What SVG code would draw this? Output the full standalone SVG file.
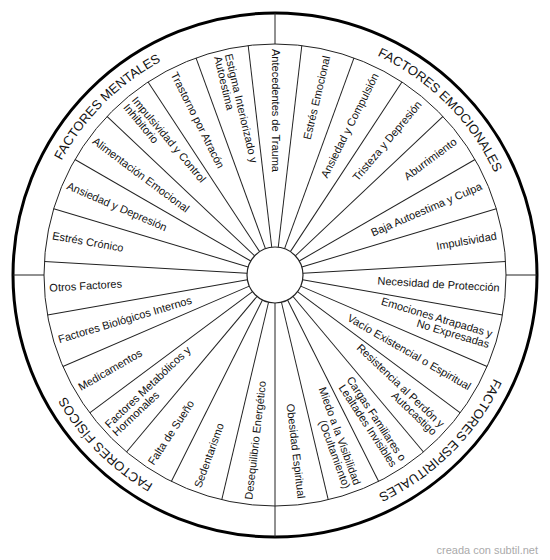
<svg xmlns="http://www.w3.org/2000/svg" xmlns:xlink="http://www.w3.org/1999/xlink" width="550" height="560" viewBox="0 0 550 560">
<style>
.t{font-family:"Liberation Sans",Arial,sans-serif;font-size:11px;fill:#111}
.r{text-anchor:end}
.cat{font-family:"Liberation Sans",Arial,sans-serif;font-size:13px;fill:#111;text-anchor:middle}
.sp{stroke:#222;stroke-width:1;fill:none}
.wm{font-family:"Liberation Sans",Arial,sans-serif;font-size:11px;fill:#aaa;text-anchor:end}
</style>
<defs>
<path id="ring" d="M275,33 A242,242 0 1,1 275,517 A242,242 0 1,1 275,33"/>
</defs>
<rect width="550" height="560" fill="#fff"/>
<g id="frame">
<circle cx="275" cy="275" r="262" fill="#fff" stroke="#000" stroke-width="3"/>
<circle cx="275" cy="275" r="231" fill="none" stroke="#222" stroke-width="1"/>
<g class="sp">
<line x1="275" y1="13" x2="275" y2="44"/>
<line x1="537" y1="275" x2="506" y2="275"/>
<line x1="275" y1="537" x2="275" y2="506"/>
<line x1="13" y1="275" x2="44" y2="275"/>
</g>
</g>
<g id="connectors" class="sp" transform="translate(275 275)">
<line x1="0" y1="-28" x2="0" y2="-231" transform="rotate(6.667)"/>
<line x1="0" y1="-28" x2="0" y2="-231" transform="rotate(20)"/>
<line x1="0" y1="-28" x2="0" y2="-231" transform="rotate(33.333)"/>
<line x1="0" y1="-28" x2="0" y2="-231" transform="rotate(46.667)"/>
<line x1="0" y1="-28" x2="0" y2="-231" transform="rotate(60)"/>
<line x1="0" y1="-28" x2="0" y2="-231" transform="rotate(73.333)"/>
<line x1="0" y1="-28" x2="0" y2="-231" transform="rotate(86.667)"/>
<line x1="0" y1="-28" x2="0" y2="-231" transform="rotate(100)"/>
<line x1="0" y1="-28" x2="0" y2="-231" transform="rotate(113.333)"/>
<line x1="0" y1="-28" x2="0" y2="-231" transform="rotate(126.667)"/>
<line x1="0" y1="-28" x2="0" y2="-231" transform="rotate(140)"/>
<line x1="0" y1="-28" x2="0" y2="-231" transform="rotate(153.333)"/>
<line x1="0" y1="-28" x2="0" y2="-231" transform="rotate(166.667)"/>
<line x1="0" y1="-28" x2="0" y2="-231" transform="rotate(180)"/>
<line x1="0" y1="-28" x2="0" y2="-231" transform="rotate(193.333)"/>
<line x1="0" y1="-28" x2="0" y2="-231" transform="rotate(206.667)"/>
<line x1="0" y1="-28" x2="0" y2="-231" transform="rotate(220)"/>
<line x1="0" y1="-28" x2="0" y2="-231" transform="rotate(233.333)"/>
<line x1="0" y1="-28" x2="0" y2="-231" transform="rotate(246.667)"/>
<line x1="0" y1="-28" x2="0" y2="-231" transform="rotate(260)"/>
<line x1="0" y1="-28" x2="0" y2="-231" transform="rotate(273.333)"/>
<line x1="0" y1="-28" x2="0" y2="-231" transform="rotate(286.667)"/>
<line x1="0" y1="-28" x2="0" y2="-231" transform="rotate(300)"/>
<line x1="0" y1="-28" x2="0" y2="-231" transform="rotate(313.333)"/>
<line x1="0" y1="-28" x2="0" y2="-231" transform="rotate(326.667)"/>
<line x1="0" y1="-28" x2="0" y2="-231" transform="rotate(340)"/>
<line x1="0" y1="-28" x2="0" y2="-231" transform="rotate(353.333)"/>
</g>
<g id="hub"><circle cx="275" cy="275" r="28" fill="#fff" stroke="#222" stroke-width="1.2"/></g>
<g id="categories">
<text class="cat"><textPath xlink:href="#ring" href="#ring" startOffset="190.07">FACTORES EMOCIONALES</textPath></text>
<text class="cat"><textPath xlink:href="#ring" href="#ring" startOffset="570.2">FACTORES ESPIRITUALES</textPath></text>
<text class="cat"><textPath xlink:href="#ring" href="#ring" startOffset="950.3">FACTORES FÍSICOS</textPath></text>
<text class="cat"><textPath xlink:href="#ring" href="#ring" startOffset="1330.5">FACTORES MENTALES</textPath></text>
</g>
<g id="n0" transform="translate(275 275) rotate(90)"><text class="t" x="-226" y="3.5">Antecedentes de Trauma</text></g>
<g id="n1" transform="translate(275 275) rotate(-76.667)"><text class="t r" x="225" y="3.5">Estrés Emocional</text></g>
<g id="n2" transform="translate(275 275) rotate(-63.333)"><text class="t r" x="225" y="3.5">Ansiedad y Compulsión</text></g>
<g id="n3" transform="translate(275 275) rotate(-50)"><text class="t r" x="225" y="3.5">Tristeza y Depresión</text></g>
<g id="n4" transform="translate(275 275) rotate(-36.667)"><text class="t r" x="225" y="3.5">Aburrimiento</text></g>
<g id="n5" transform="translate(275 275) rotate(-23.333)"><text class="t r" x="225" y="3.5">Baja Autoestima y Culpa</text></g>
<g id="n6" transform="translate(275 275) rotate(-10)"><text class="t r" x="225" y="3.5">Impulsividad</text></g>
<g id="n7" transform="translate(275 275) rotate(3.333)"><text class="t r" x="225" y="3.5">Necesidad de Protección</text></g>
<g id="n8" transform="translate(275 275) rotate(16.667)"><text class="t r" x="225" y="-2">Emociones Atrapadas y</text><text class="t r" x="225" y="9">No Expresadas</text></g>
<g id="n9" transform="translate(275 275) rotate(30)"><text class="t r" x="225" y="3.5">Vacío Existencial o Espiritual</text></g>
<g id="n10" transform="translate(275 275) rotate(43.333)"><text class="t r" x="225" y="-2">Resistencia al Perdón y</text><text class="t r" x="225" y="9">Autocastigo</text></g>
<g id="n11" transform="translate(275 275) rotate(56.667)"><text class="t r" x="225" y="-2">Cargas Familiares o</text><text class="t r" x="225" y="9">Lealtades Invisibles</text></g>
<g id="n12" transform="translate(275 275) rotate(70)"><text class="t r" x="225" y="-2">Miedo a la Visibilidad</text><text class="t r" x="225" y="9">(Ocultamiento)</text></g>
<g id="n13" transform="translate(275 275) rotate(83.333)"><text class="t r" x="225" y="3.5">Obesidad Espiritual</text></g>
<g id="n14" transform="translate(275 275) rotate(-83.333)"><text class="t" x="-226" y="3.5">Desequilibrio Energético</text></g>
<g id="n15" transform="translate(275 275) rotate(-70)"><text class="t" x="-226" y="3.5">Sedentarismo</text></g>
<g id="n16" transform="translate(275 275) rotate(-56.667)"><text class="t" x="-226" y="3.5">Falta de Sueño</text></g>
<g id="n17" transform="translate(275 275) rotate(-43.333)"><text class="t" x="-226" y="-2">Factores Metabólicos y</text><text class="t" x="-226" y="9">Hormonales</text></g>
<g id="n18" transform="translate(275 275) rotate(-30)"><text class="t" x="-226" y="3.5">Medicamentos</text></g>
<g id="n19" transform="translate(275 275) rotate(-16.667)"><text class="t" x="-226" y="3.5">Factores Biológicos Internos</text></g>
<g id="n20" transform="translate(275 275) rotate(-3.333)"><text class="t" x="-226" y="3.5">Otros Factores</text></g>
<g id="n21" transform="translate(275 275) rotate(10)"><text class="t" x="-226" y="3.5">Estrés Crónico</text></g>
<g id="n22" transform="translate(275 275) rotate(23.333)"><text class="t" x="-226" y="3.5">Ansiedad y Depresión</text></g>
<g id="n23" transform="translate(275 275) rotate(36.667)"><text class="t" x="-226" y="3.5">Alimentación Emocional</text></g>
<g id="n24" transform="translate(275 275) rotate(50)"><text class="t" x="-226" y="-2">Impulsividad y Control</text><text class="t" x="-226" y="9">Inhibitorio</text></g>
<g id="n25" transform="translate(275 275) rotate(63.333)"><text class="t" x="-226" y="3.5">Trastorno por Atracón</text></g>
<g id="n26" transform="translate(275 275) rotate(76.667)"><text class="t" x="-226" y="-2">Estigma Interiorizado y</text><text class="t" x="-226" y="9">Autoestima</text></g>
<text class="wm" x="538" y="554">creada con subtil.net</text>
</svg>
